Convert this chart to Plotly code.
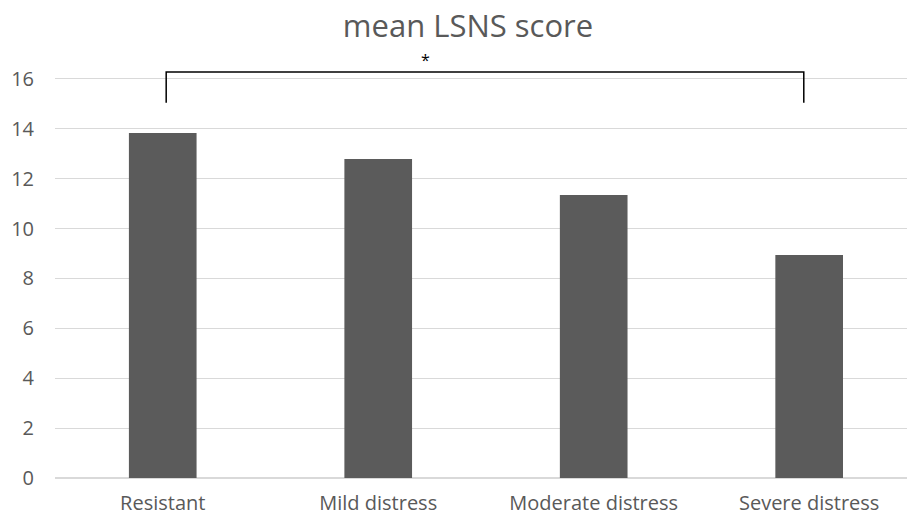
import plotly.graph_objects as go

categories = ["Resistant", "Mild distress", "Moderate distress", "Severe distress"]
mean_lsns = [13.83, 12.79, 11.35, 8.94]
y_ticks = [0, 2, 4, 6, 8, 10, 12, 14, 16]

fig = go.Figure()
fig.add_trace(go.Bar(
    x=categories, y=mean_lsns,
    marker=dict(color="#5b5b5b", line=dict(width=0)),
    width=0.314,
))

# significance bracket (Resistant vs Severe distress)
fig.add_shape(type="path", xref="x", yref="y",
              path="M 0.016,15.05 L 0.016,16.28 L 2.975,16.28 L 2.975,15.05",
              line=dict(color="black", width=1.5))
fig.add_annotation(x=1.22, y=16.22, xref="x", yref="y", text="*", showarrow=False,
                   yanchor="bottom", font=dict(size=16, color="black", family="Open Sans"))

fig.update_layout(
    width=907, height=518,
    margin=dict(l=55, r=0, t=64, b=40, autoexpand=False),
    paper_bgcolor="white", plot_bgcolor="white",
    title=dict(text="mean LSNS score", x=0.516, xanchor="center", y=0.95, yanchor="middle",
               font=dict(family="Open Sans", size=31, color="#595959")),
    showlegend=False,
    font=dict(family="Open Sans", color="#595959", size=20),
)
fig.update_xaxes(type="category", range=[-0.5, 3.454], showgrid=False, showline=False,
                 automargin=False,
                 ticks="", ticklabelstandoff=11, tickfont=dict(size=20, color="#595959"))
fig.update_yaxes(range=[0, 16.6], tickvals=y_ticks, showgrid=True, gridcolor="#d9d9d9",
                 automargin=False,
                 gridwidth=1, zeroline=True, zerolinecolor="#d9d9d9", showline=False,
                 ticks="", ticklabelstandoff=20, tickfont=dict(size=20, color="#595959"))

fig.write_html("out.html", config={"displayModeBar": False},
               post_script="document.body.style.margin='0';document.body.style.overflow='hidden';")
